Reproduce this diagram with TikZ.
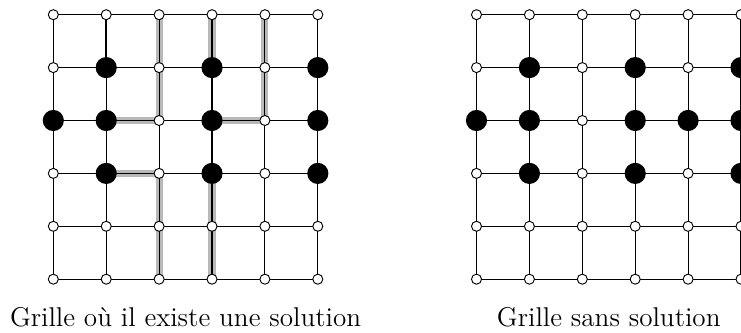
\documentclass[tikz,border=0pt]{standalone}
\usepackage{fontspec}
\usetikzlibrary{backgrounds}
\pgfdeclarelayer{bottom}
\pgfsetlayers{bottom,background,main}
\makeatletter
\newcommand\placegrid[3]{% #1 prefix, #2 x offset, #3 list of black positions (col row)
  \foreach \cx in {0,...,5}{\foreach \ry in {0,...,5}{%
    \edef\tmpcheck{\noexpand\in@{,\cx\ry,}{,#3,}}\tmpcheck
    \ifin@
      \node[bn] (#1\cx\ry) at (#2+\cx,5-\ry) {};
    \else
      \node[wn] (#1\cx\ry) at (#2+\cx,5-\ry) {};
    \fi}}%
  \begin{scope}[on background layer]
    \foreach \k in {0,...,5}{%
      \draw[gridline] (#10\k.center) -- (#15\k.center);
      \draw[gridline] (#1\k0.center) -- (#1\k5.center);}
  \end{scope}}
\makeatother
\begin{document}
\begin{tikzpicture}[x=1cm,y=1cm,
  wn/.style={circle,draw=black,fill=white,line width=0.5pt,inner sep=0pt,minimum size=0.19cm},
  bn/.style={circle,fill=black,draw=none,inner sep=0pt,minimum size=0.4cm},
  gridline/.style={line width=0.6pt,black},
  solpath/.style={line width=3.8pt,black!28},
  boldline/.style={line width=1.3pt,black},
  caption/.style={font=\fontsize{14.6}{17}\selectfont,anchor=base,inner sep=0pt}]
\useasboundingbox (-1.008,-1.015) rectangle (13.0,5.278);
\placegrid{L}{0}{11,31,51,02,12,32,52,13,33,53}
\placegrid{R}{8}{11,31,51,02,12,32,42,52,13,33,53}
\begin{pgfonlayer}{bottom}
  \draw[solpath] (L12.center) -- (L22.center) -- (L21.center) -- (L20.center);
  \draw[solpath] (L31.center) -- (L30.center);
  \draw[solpath] (L32.center) -- (L42.center) -- (L41.center) -- (L40.center);
  \draw[solpath] (L13.center) -- (L23.center) -- (L24.center) -- (L25.center);
  \draw[solpath] (L33.center) -- (L34.center) -- (L35.center);
\end{pgfonlayer}
\begin{scope}[on background layer]
  \draw[boldline] (L11.center) -- (L10.center);
\end{scope}
\node[caption] (capL) at (2.5,-0.896) {Grille où il existe une solution};
\node[caption] (capR) at (10.5,-0.896) {Grille sans solution};
\end{tikzpicture}
\end{document}
